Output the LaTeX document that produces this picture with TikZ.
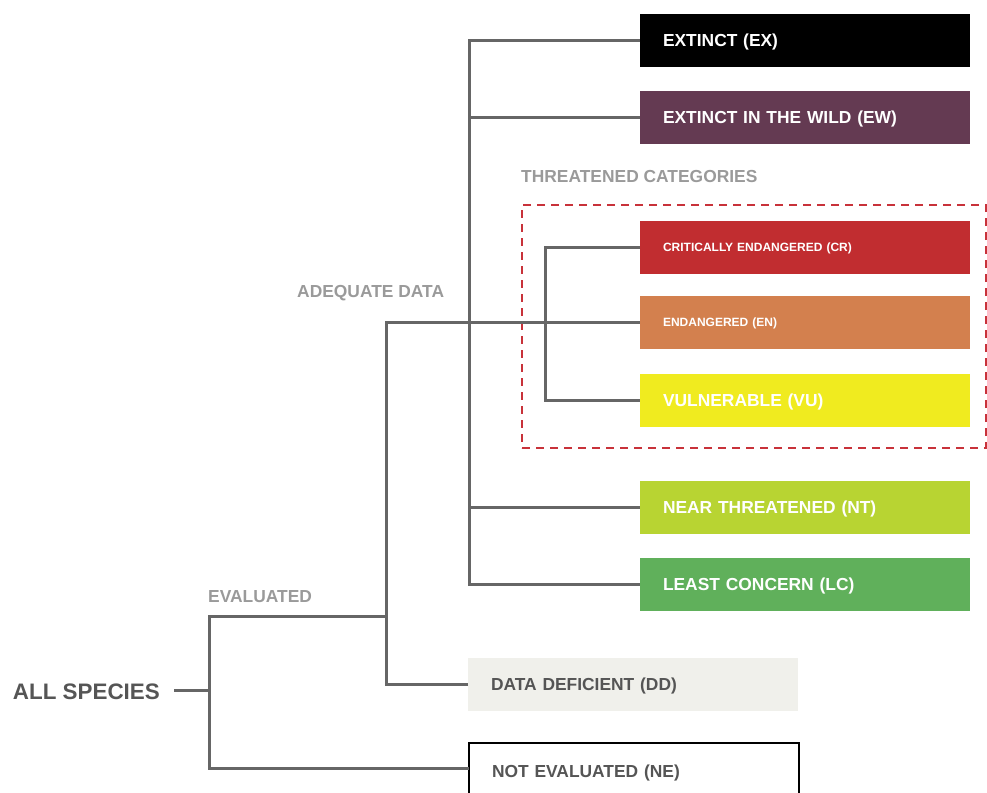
\documentclass[tikz,border=0pt]{standalone}
\usepackage{fontspec}
\setmainfont{Liberation Sans}
\usetikzlibrary{positioning}
\definecolor{cEX}{HTML}{000000}
\definecolor{cEW}{HTML}{643A52}
\definecolor{cCR}{HTML}{C12D30}
\definecolor{cEN}{HTML}{D3804E}
\definecolor{cVU}{HTML}{F0EB1F}
\definecolor{cNT}{HTML}{B8D432}
\definecolor{cLC}{HTML}{60B05B}
\definecolor{cDD}{HTML}{F0F0EB}
\definecolor{cLine}{HTML}{666666}
\definecolor{cLab}{HTML}{9A9A9A}
\definecolor{cDark}{HTML}{555555}
\definecolor{cRed}{HTML}{C8323A}
\tikzset{
  catbox/.style={rectangle, anchor=west, minimum height=53pt, text width=284pt,
     inner xsep=23pt, inner ysep=0pt, outer sep=0pt, align=left, text=white,
     text height=12.5pt, text depth=0pt,
     font=\bfseries\fontsize{17.4}{20}\selectfont},
  smallbox/.style={catbox, text height=8.6pt, font=\bfseries\fontsize{12}{14}\selectfont},
  lowbox/.style={catbox, text=cDark},
  conn/.style={draw=cLine, line width=3pt},
  grouplab/.style={anchor=west, inner sep=0pt, text=cLab, text height=12.5pt, text depth=0pt,
     font=\bfseries\fontsize{17.4}{20}\selectfont},
}
\begin{document}
\begin{tikzpicture}[x=1pt,y=1pt]
\useasboundingbox (0,0) rectangle (987,-792);
% threatened group frame
\node[draw=cRed, line width=2pt, dash pattern=on 8pt off 6pt, minimum width=464pt, minimum height=243pt, inner sep=0pt] (tc) at (754,-326.5) {};
\node[grouplab] (tclab) at (521,-176) {THREATENED CATEGORIES};
\node[grouplab] (adlab) at (297,-291) {ADEQUATE DATA};
\node[grouplab] (evlab) at (208,-596) {EVALUATED};
% category boxes
\node[catbox, fill=cEX] (ex) at (640,-40.5) {EXTINCT (EX)};
\node[catbox, fill=cEW] (ew) at (640,-117.5) {EXTINCT IN THE WILD (EW)};
\node[smallbox, fill=cCR] (cr) at (640,-247) {CRITICALLY ENDANGERED (CR)};
\node[smallbox, fill=cEN] (en) at (640,-322) {ENDANGERED (EN)};
\node[catbox, fill=cVU] (vu) at (640,-400) {VULNERABLE (VU)};
\node[catbox, fill=cNT] (nt) at (640,-507.5) {NEAR THREATENED (NT)};
\node[catbox, fill=cLC] (lc) at (640,-584.5) {LEAST CONCERN (LC)};
\node[lowbox, fill=cDD] (dd) at (468,-684) {DATA DEFICIENT (DD)};
\node[lowbox, fill=white, draw=black, line width=2pt, minimum height=56pt] (ne) at (469,-771) {NOT EVALUATED (NE)};
\node[anchor=east, inner sep=0pt, text=cDark, text height=16pt, text depth=0pt, font=\bfseries\fontsize{22.4}{26}\selectfont] (all) at (160,-691) {ALL SPECIES};
% junction coordinates
\coordinate (r1) at (209,-690);
\coordinate (ev) at (209,-616);
\coordinate (evr) at (386,-616);
\coordinate (ad) at (386,-322);
\coordinate (tx) at (469,0);
\coordinate (cx) at (545,0);
% connectors
\draw[conn] ([xshift=14pt]all.east |- r1) -- (r1);
\draw[conn] (ne.west |- 0,-768) -| (ev) -- (evr);
\draw[conn] (dd.west) -| (ad) -- (en.west);
\draw[conn] (ex.west) -- (ex.west -| tx) |- (lc.west);
\draw[conn] (ew.west -| tx) -- (ew.west);
\draw[conn] (nt.west -| tx) -- (nt.west);
\draw[conn] (cr.west) -- (cr.west -| cx) |- (vu.west);
\end{tikzpicture}
\end{document}
